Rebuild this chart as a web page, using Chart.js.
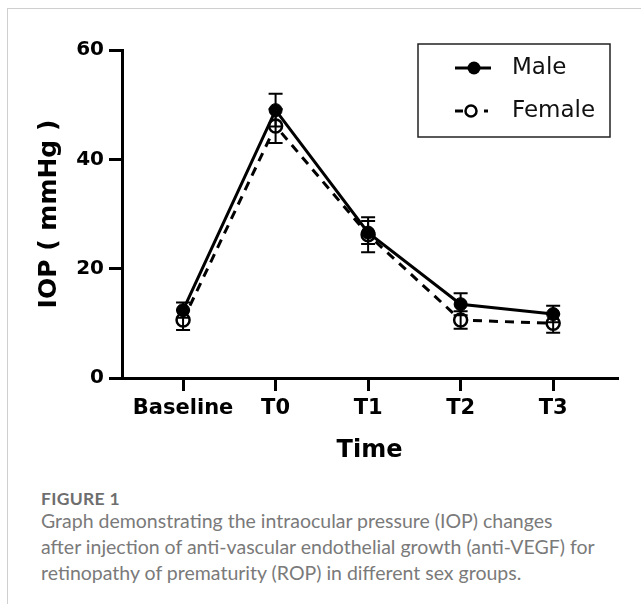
<!DOCTYPE html>
<html>
<head>
<meta charset="utf-8">
<script src="https://cdn.jsdelivr.net/npm/chart.js@4.4.1/dist/chart.umd.min.js"></script>
<style>
  html, body { margin: 0; padding: 0; background: #fff; }
  body { width: 641px; height: 604px; position: relative; overflow: hidden; }
  .frame { position: absolute; left: 7px; top: 8px; right: -2px; bottom: -2px;
           border-top: 1px solid #cfcfcf; border-left: 1px solid #cfcfcf; }
  #wrap { position: absolute; left: 0; top: 0; width: 641px; height: 480px; }
  .fig-label { position: absolute; left: 41px; top: 488px; font-family: Lato, "Open Sans", sans-serif;
               font-weight: 700; font-size: 17.5px; color: #6e6e6e; letter-spacing: 0.3px; }
  .fig-caption { position: absolute; left: 41px; top: 508px; width: 595px; font-family: Lato, "Open Sans", sans-serif;
                 font-weight: 400; font-size: 19.5px; line-height: 26px; color: #7a7a7a; white-space: nowrap; }
</style>
</head>
<body>
<div class="frame"></div>
<div id="wrap"><canvas id="iopChart"></canvas></div>
<div class="fig-label">FIGURE 1</div>
<div class="fig-caption">Graph demonstrating the intraocular pressure (IOP) changes<br>after injection of anti-vascular endothelial growth (anti-VEGF) for<br>retinopathy of prematurity (ROP) in different sex groups.</div>
<script>
// Data
const timePoints = ['Baseline', 'T0', 'T1', 'T2', 'T3'];
const maleMean = [12.4, 49.0, 26.6, 13.5, 11.7];
const maleSD = [1.4, 3.0, 2.1, 2.0, 1.5];
const femaleMean = [10.6, 46.1, 26.2, 10.6, 10.0];
const femaleSD = [1.8, 3.1, 3.2, 1.6, 1.7];
const yTicks = [0, 20, 40, 60];

const toPoints = arr => arr.map((v, i) => ({ x: i, y: v }));
const sdByDataset = [maleSD, femaleSD];
const FONT = '"DejaVu Sans", Verdana, sans-serif';

// Error bars, drawn over the markers like the original figure
const errorBars = {
  id: 'errorBars',
  afterDatasetsDraw(chart) {
    const { ctx, scales: { x, y } } = chart;
    ctx.save();
    ctx.strokeStyle = '#000';
    ctx.lineWidth = 2;
    chart.data.datasets.forEach((ds, di) => {
      ds.data.forEach((p, i) => {
        const sd = sdByDataset[di][i];
        const px = x.getPixelForValue(p.x);
        const top = y.getPixelForValue(p.y + sd);
        const bot = y.getPixelForValue(p.y - sd);
        ctx.beginPath();
        ctx.moveTo(px, top); ctx.lineTo(px, bot);
        ctx.moveTo(px - 7, top); ctx.lineTo(px + 7, top);
        ctx.moveTo(px - 7, bot); ctx.lineTo(px + 7, bot);
        ctx.stroke();
      });
    });
    ctx.restore();
  }
};

// Boxed legend in the top right corner
const boxLegend = {
  id: 'boxLegend',
  afterDraw(chart) {
    const { ctx } = chart;
    const bx = 418, by = 44, bw = 192, bh = 93;
    ctx.save();
    ctx.strokeStyle = '#222';
    ctx.lineWidth = 1.5;
    ctx.strokeRect(bx, by, bw, bh);
    ctx.strokeStyle = '#000';
    ctx.fillStyle = '#000';
    // Male
    ctx.lineWidth = 3;
    ctx.beginPath(); ctx.moveTo(bx + 37, by + 24); ctx.lineTo(bx + 73, by + 24); ctx.stroke();
    ctx.beginPath(); ctx.arc(bx + 56, by + 24, 6.5, 0, Math.PI * 2); ctx.fill();
    // Female
    ctx.beginPath(); ctx.moveTo(bx + 37, by + 67); ctx.lineTo(bx + 45, by + 67); ctx.stroke();
    ctx.beginPath(); ctx.moveTo(bx + 66, by + 67); ctx.lineTo(bx + 70, by + 67); ctx.stroke();
    ctx.lineWidth = 2.5;
    ctx.fillStyle = '#fff';
    ctx.beginPath(); ctx.arc(bx + 53, by + 67, 5.5, 0, Math.PI * 2); ctx.fill(); ctx.stroke();
    ctx.fillStyle = '#111';
    ctx.font = '23px ' + FONT;
    ctx.textBaseline = 'middle';
    ctx.fillText(chart.data.datasets[0].label, bx + 94, by + 24);
    ctx.fillText(chart.data.datasets[1].label, bx + 94, by + 67);
    ctx.restore();
  }
};

new Chart(document.getElementById('iopChart'), {
  type: 'line',
  data: {
    datasets: [{
      label: 'Male',
      data: toPoints(maleMean),
      borderColor: '#000',
      borderWidth: 3,
      pointRadius: 6.5,
      pointBackgroundColor: '#000',
      pointBorderColor: '#000',
      pointBorderWidth: 1,
      tension: 0
    }, {
      label: 'Female',
      data: toPoints(femaleMean),
      borderColor: '#000',
      borderWidth: 3,
      borderDash: [9, 7],
      pointRadius: 6.5,
      pointBackgroundColor: '#fff',
      pointBorderColor: '#000',
      pointBorderWidth: 2.5,
      tension: 0
    }]
  },
  options: {
    responsive: true,
    maintainAspectRatio: false,
    animation: false,
    layout: { padding: { left: 0, right: 24, top: 50, bottom: 12 } },
    plugins: { legend: { display: false }, tooltip: { enabled: false } },
    scales: {
      x: {
        type: 'linear',
        min: -0.66,
        max: 4.69,
        afterBuildTicks: s => { s.ticks = timePoints.map((c, i) => ({ value: i })); },
        afterFit: s => { s.height = 90; },
        ticks: { callback: v => timePoints[v], font: { family: FONT, size: 21, weight: 'bold' }, color: '#000', padding: 5, maxRotation: 0 },
        grid: { drawOnChartArea: false, color: '#000', lineWidth: 3, tickLength: 13 },
        border: { display: true, color: '#000', width: 3 },
        title: { display: true, text: 'Time', color: '#000', padding: { top: 0, bottom: 3 },
                 font: { family: FONT, size: 24, weight: 'bold' } }
      },
      y: {
        min: 0,
        max: 60,
        afterBuildTicks: s => { s.ticks = yTicks.map(v => ({ value: v })); },
        afterFit: s => { s.width = 122; },
        ticks: { font: { family: FONT, size: 20, weight: 'bold' }, color: '#000', padding: 5 },
        grid: { drawOnChartArea: false, color: '#000', lineWidth: 3, tickLength: 13 },
        border: { display: true, color: '#000', width: 3 },
        title: { display: true, text: 'IOP ( mmHg )', color: '#000', padding: { top: 34, bottom: 0 },
                 font: { family: FONT, size: 25, weight: 'bold' } }
      }
    }
  },
  plugins: [errorBars, boxLegend]
});
</script>
</body>
</html>
